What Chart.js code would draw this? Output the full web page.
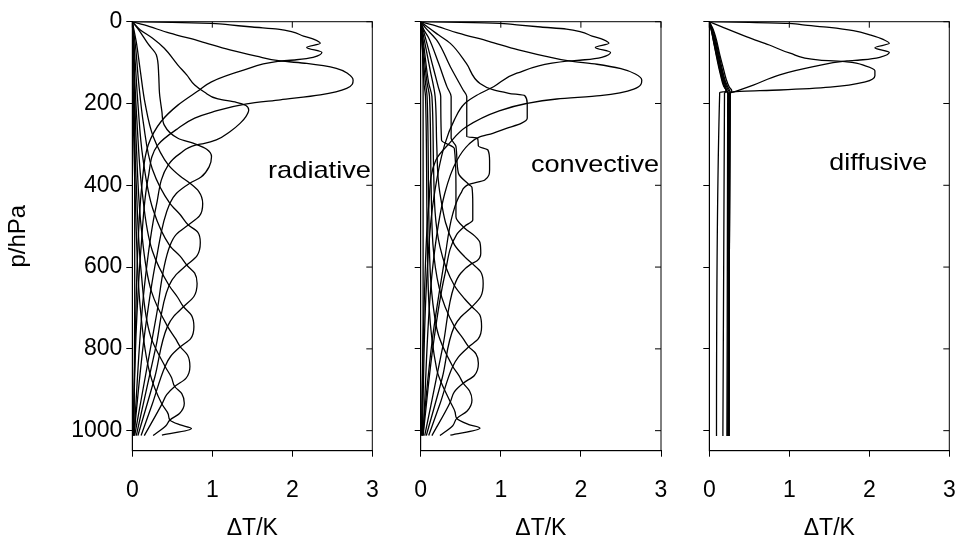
<!DOCTYPE html>
<html><head><meta charset="utf-8">
<script src="https://cdn.jsdelivr.net/npm/chart.js@4.4.0/dist/chart.umd.min.js"></script>
<style>
html,body{margin:0;padding:0;background:#fff;}
#wrap{position:relative;width:958px;height:548px;overflow:hidden;}
.pane{position:absolute;top:0;height:548px;}
</style></head><body>
<div id="wrap">
<div class="pane" style="left:0;width:400px"><canvas id="c1" width="400" height="548"></canvas></div>
<div class="pane" style="left:400px;width:280px"><canvas id="c2" width="280" height="548"></canvas></div>
<div class="pane" style="left:680px;width:278px"><canvas id="c3" width="278" height="548"></canvas></div>
</div>
<script>
// ---- tick labels / categories ----
const xTicks = [0, 1, 2, 3];
const pTicks = [0, 200, 400, 600, 800, 1000];
const panelNames = ['radiative', 'convective', 'diffusive'];
const xTitle = 'ΔT/K';
const yTitle = 'p/hPa';

// ---- radiative panel: [ΔT (K), p (hPa)] ----
const rad0 = [[0,0],[0.02,50],[0.03,300],[0.03,700],[0.02,1012]];
const rad1 = [[0,0],[0.5,1.5],[0.99,4],[1.22,8],[1.5,13],[1.82,18],[2.0,25],[2.14,35],[2.28,44],[2.35,53],[2.18,63],[2.37,75],[2.26,87],[2.05,93],[1.82,97],[1.4,118],[0.99,147],[0.84,167],[0.57,204],[0.36,244],[0.2,301],[0.12,400],[0.07,550],[0.04,750],[0.01,1012]];
const rad2 = [[0,0],[0.15,8],[0.47,28],[0.85,48],[1.22,69],[1.55,84],[1.85,96],[2.18,102],[2.55,114],[2.7,128],[2.76,143],[2.68,163],[2.35,179],[1.85,191],[1.43,201],[1.0,221],[0.78,236],[0.57,261],[0.32,301],[0.2,380],[0.11,550],[0.05,750],[0.01,1012]];
const rad3 = [[0,0],[0.1,20],[0.25,40],[0.4,65],[0.57,106],[0.68,130],[0.78,155],[0.9,172],[1.07,189],[1.3,197],[1.42,205],[1.455,216],[1.42,232],[1.35,248],[1.22,269],[1.05,289],[0.89,298],[0.8,301],[0.6,322],[0.45,350],[0.3,450],[0.15,650],[0.02,1012]];
const rad4 = [[0,0],[0.08,20],[0.2,55],[0.3,81],[0.33,130],[0.34,175],[0.37,220],[0.4,253],[0.57,285],[0.8,300],[0.93,312],[0.99,330],[0.96,355],[0.86,380],[0.72,395],[0.55,420],[0.47,444],[0.3,580],[0.15,770],[0.02,1012]];
const rad5 = [[0,0],[0.05,50],[0.1,120],[0.16,200],[0.26,280],[0.45,350],[0.6,378],[0.72,395],[0.83,415],[0.88,445],[0.84,475],[0.7,497],[0.55,520],[0.47,548],[0.3,720],[0.03,1012]];
const rad6 = [[0,0],[0.04,60],[0.08,150],[0.14,250],[0.25,360],[0.47,444],[0.6,472],[0.7,497],[0.82,515],[0.85,540],[0.81,572],[0.68,595],[0.55,618],[0.46,645],[0.3,790],[0.05,1012]];
const rad7 = [[0,0],[0.03,80],[0.07,200],[0.13,330],[0.26,460],[0.47,548],[0.6,574],[0.68,595],[0.78,615],[0.81,640],[0.77,672],[0.64,697],[0.52,720],[0.44,745],[0.28,870],[0.07,1012]];
const rad8 = [[0,0],[0.02,100],[0.06,250],[0.12,410],[0.25,560],[0.46,645],[0.57,675],[0.64,697],[0.74,718],[0.77,746],[0.73,775],[0.6,795],[0.48,818],[0.41,843],[0.25,935],[0.11,1012]];
const rad9 = [[0,0],[0.02,120],[0.05,300],[0.11,500],[0.24,660],[0.44,745],[0.54,775],[0.6,795],[0.69,815],[0.72,843],[0.67,872],[0.53,892],[0.43,912],[0.37,935],[0.15,1012]];
const rad10 = [[0,0],[0.01,150],[0.05,400],[0.11,610],[0.23,770],[0.41,843],[0.49,870],[0.53,892],[0.62,910],[0.65,933],[0.59,958],[0.47,974],[0.42,988],[0.26,1012]];
const rad11 = [[0,0],[0.01,200],[0.04,450],[0.1,700],[0.22,860],[0.37,935],[0.45,960],[0.47,974],[0.6,986],[0.74,995],[0.37,1011]];

// ---- convective panel ----
const con0 = [[0,0],[0.02,50],[0.03,183],[0.03,700],[0.01,1012]];
const con1 = [[0,0],[0.5,1.5],[0.99,4],[1.2,8],[1.5,13],[1.82,18],[2.0,25],[2.14,35],[2.28,44],[2.35,53],[2.18,63],[2.37,75],[2.26,87],[2.05,93],[1.85,96],[1.2,126],[0.91,159],[0.7,180],[0.55,200],[0.42,240],[0.3,300],[0.15,450],[0.07,650],[0.02,1012]];
const con2 = [[0,0],[0.15,8],[0.47,28],[0.85,48],[1.22,69],[1.55,84],[1.85,96],[2.2,104],[2.5,115],[2.68,128],[2.76,143],[2.66,165],[2.24,181],[1.7,189],[1.32,200],[0.98,218],[0.57,257],[0.36,297],[0.19,338],[0.1,450],[0.05,650],[0.01,1012]];
const con3 = [[0,0],[0.1,15],[0.22,32],[0.37,53],[0.57,102],[0.74,151],[0.91,167],[1.1,175],[1.3,181],[1.33,200],[1.33,236],[1.26,248],[1.07,261],[0.9,273],[0.73,282],[0.6,300],[0.45,340],[0.3,420],[0.15,600],[0.03,1012]];
const con4 = [[0,0],[0.06,15],[0.2,45],[0.37,110],[0.53,167],[0.575,183],[0.575,281],[0.71,285],[0.72,304],[0.84,314],[0.86,340],[0.86,362],[0.8,387],[0.6,398],[0.5,420],[0.4,470],[0.3,580],[0.15,770],[0.02,1012]];
const con5 = [[0,0],[0.04,20],[0.1,40],[0.22,100],[0.33,160],[0.38,183],[0.38,285],[0.44,305],[0.47,370],[0.6,398],[0.64,405],[0.65,445],[0.65,485],[0.55,500],[0.45,520],[0.3,620],[0.15,800],[0.03,1012]];
const con6 = [[0,0],[0.06,40],[0.14,100],[0.22,160],[0.25,183],[0.26,290],[0.42,310],[0.44,400],[0.44,477],[0.55,505],[0.68,525],[0.74,540],[0.75,566],[0.7,585],[0.64,591],[0.5,615],[0.42,645],[0.28,790],[0.05,1012]];
const con7 = [[0,0],[0.05,50],[0.12,120],[0.18,183],[0.2,300],[0.24,420],[0.42,545],[0.55,575],[0.64,591],[0.75,612],[0.78,640],[0.75,672],[0.64,697],[0.5,722],[0.42,745],[0.27,870],[0.07,1012]];
const con8 = [[0,0],[0.04,60],[0.1,150],[0.14,183],[0.16,350],[0.24,550],[0.42,645],[0.55,678],[0.64,697],[0.74,718],[0.76,746],[0.72,775],[0.6,795],[0.47,820],[0.4,843],[0.24,935],[0.1,1012]];
const con9 = [[0,0],[0.03,60],[0.08,150],[0.11,183],[0.13,400],[0.23,650],[0.42,745],[0.53,775],[0.6,795],[0.69,812],[0.72,835],[0.67,865],[0.53,884],[0.42,905],[0.37,930],[0.14,1012]];
const con10 = [[0,0],[0.02,60],[0.06,150],[0.08,183],[0.1,450],[0.2,750],[0.4,843],[0.48,866],[0.53,884],[0.61,903],[0.64,925],[0.58,952],[0.45,970],[0.4,988],[0.24,1012]];
const con11 = [[0,0],[0.02,60],[0.04,150],[0.06,183],[0.08,500],[0.2,850],[0.37,930],[0.43,955],[0.45,970],[0.6,985],[0.74,994],[0.37,1011]];

// ---- diffusive panel ----
const dif1 = [[0,0],[0.5,1.5],[0.99,4],[1.17,8],[1.5,14],[1.8,22],[2.02,33],[2.18,44],[2.25,53],[2.07,63.5],[2.25,75],[2.13,87],[1.92,93],[1.72,96],[1.3,110],[0.88,130],[0.55,155],[0.32,171],[0.26,175],[0.25,600],[0.24,1013]];
const dif2 = [[0,0],[0.15,12],[0.47,37],[0.75,57],[1.01,77],[1.38,94],[1.72,98],[1.95,108],[2.07,120],[2.07,132],[1.95,147],[1.51,160],[0.88,167],[0.32,171],[0.26,175],[0.25,600],[0.25,1013]];
const dif3 = [[0,0],[0.04,15],[0.09,45],[0.13,80],[0.17,110],[0.21,140],[0.25,160],[0.28,168],[0.26,176],[0.25,600],[0.24,1013]];
const dif4 = [[0,0],[0.04,18],[0.08,45],[0.12,80],[0.16,115],[0.2,145],[0.24,163],[0.26,172],[0.25,300],[0.24,1013]];
const dif5 = [[0,0],[0.03,18],[0.07,45],[0.11,80],[0.15,115],[0.19,145],[0.23,165],[0.25,173],[0.24,1013]];
const dif6 = [[0,0],[0.03,20],[0.07,50],[0.11,85],[0.15,120],[0.19,150],[0.22,168],[0.24,175],[0.23,1013]];
const dif7 = [[0,0],[0.03,22],[0.06,50],[0.1,85],[0.14,120],[0.18,150],[0.21,168],[0.23,176],[0.22,1013]];
const dif8 = [[0,0],[0.03,25],[0.06,55],[0.1,90],[0.14,125],[0.18,155],[0.21,170],[0.13,173],[0.09,1013]];
const dif9 = [[0,0],[0.03,25],[0.06,55],[0.1,95],[0.14,130],[0.18,158],[0.22,171],[0.19,174],[0.17,1013]];

const radCurves = [rad0, rad1, rad2, rad3, rad4, rad5, rad6, rad7, rad8, rad9, rad10, rad11];
const conCurves = [con0, con1, con2, con3, con4, con5, con6, con7, con8, con9, con10, con11];
const difCurves = [dif1, dif2, dif3, dif4, dif5, dif6, dif7, dif8, dif9];

const FONT = '"Liberation Sans", Arial, sans-serif';
const PLOT_TOP = 21.7, PLOT_BOTTOM = 450.7;

const framePlugin = {
  id: 'frame',
  afterDraw(chart, args, opts) {
    const {ctx, chartArea: a, scales} = chart;
    const x = scales.x, y = scales.y;
    ctx.save();
    ctx.strokeStyle = '#000';
    ctx.lineWidth = 1;
    ctx.strokeRect(a.left, a.top, a.right - a.left, a.bottom - a.top);
    ctx.beginPath();
    xTicks.forEach(v => { const px = x.getPixelForValue(v); ctx.moveTo(px, a.top); ctx.lineTo(px, a.top + 6); });
    pTicks.forEach(v => { const py = y.getPixelForValue(v); ctx.moveTo(a.right, py); ctx.lineTo(a.right - 6, py); });
    ctx.stroke();
    ctx.font = '24px ' + FONT;
    ctx.fillStyle = '#000';
    ctx.textBaseline = 'alphabetic';
    ctx.textAlign = 'left';
    const w = ctx.measureText(opts.text).width;
    ctx.translate(opts.x, opts.y);
    ctx.scale(opts.w / w, 1);
    ctx.fillText(opts.text, 0, 0);
    ctx.restore();
  }
};

function makeChart(id, curves, cfg) {
  return new Chart(document.getElementById(id), {
    type: 'line',
    data: {
      datasets: curves.map(c => ({
        data: c.map(([t, p]) => ({x: t, y: p})),
        borderColor: '#000', borderWidth: 1.3, pointRadius: 0, pointHoverRadius: 0,
        fill: false, cubicInterpolationMode: 'monotone'
      }))
    },
    options: {
      responsive: false, animation: false, events: [],
      indexAxis: 'y',
      layout: {padding: {left: 0, top: PLOT_TOP, right: cfg.padRight, bottom: 0}},
      plugins: {legend: {display: false}, tooltip: {enabled: false},
        frame: {text: cfg.name, x: cfg.lx, y: cfg.ly, w: cfg.lw}},
      scales: {
        x: {
          type: 'linear', position: 'bottom', min: 0, max: 3,
          afterBuildTicks: s => { s.ticks = xTicks.map(v => ({value: v})); },
          afterFit: s => { s.height = 548 - PLOT_BOTTOM; s.paddingLeft = 0; s.paddingRight = 0; },
          ticks: {font: {family: FONT, size: 23}, color: '#000', padding: 20, maxRotation: 0, autoSkip: false,
                  callback: v => String(v)},
          grid: {drawOnChartArea: false, drawTicks: true, tickLength: 6, tickColor: '#000', color: '#000'},
          border: {display: true, color: '#000', width: 1},
          title: {display: true, text: xTitle, font: {family: FONT, size: 23}, color: '#000', padding: {top: 0, bottom: 6}}
        },
        y: {
          type: 'linear', position: 'left', reverse: true, min: 0, max: 1049,
          afterBuildTicks: s => { s.ticks = pTicks.map(v => ({value: v})); },
          afterFit: s => { s.width = cfg.yWidth; s.paddingTop = 0; s.paddingBottom = 0; },
          ticks: {display: cfg.showY, font: {family: FONT, size: 23}, color: '#000', padding: 4,
                  callback: v => String(v)},
          grid: {drawOnChartArea: false, drawTicks: true, tickLength: 6, tickColor: '#000', color: '#000'},
          border: {display: true, color: '#000', width: 1},
          title: {display: cfg.showY, text: yTitle, font: {family: FONT, size: 24}, color: '#000', padding: {top: 4, bottom: 0}}
        }
      }
    },
    plugins: [framePlugin]
  });
}

makeChart('c1', radCurves, {name: panelNames[0], yWidth: 132.3, padRight: 400 - 372.3, showY: true, lx: 268, ly: 178, lw: 103});
makeChart('c2', conCurves, {name: panelNames[1], yWidth: 20.7, padRight: 280 - 261, showY: false, lx: 131, ly: 171.5, lw: 128});
makeChart('c3', difCurves, {name: panelNames[2], yWidth: 29.3, padRight: 278 - 269.3, showY: false, lx: 149.3, ly: 170, lw: 98});
</script>
</body></html>
